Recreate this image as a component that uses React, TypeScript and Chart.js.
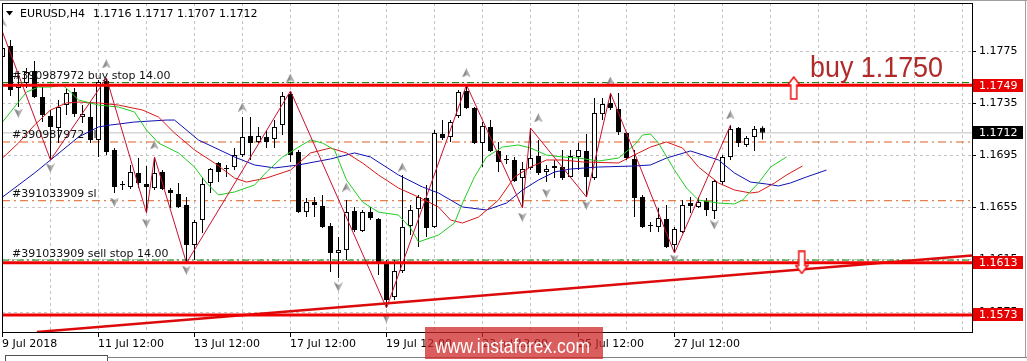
import React, { useEffect, useRef } from 'react';
import { Chart, registerables } from 'chart.js';
Chart.register(...registerables);

// ---- candle data (EURUSD H4, bar index 0 = 9 Jul 12:00) ----
const opens = [1.17701,1.17786,1.17464,1.17502,1.17594,1.17395,1.17249,1.17157,1.17333,1.17433,
 1.17241,1.17241,1.17065,1.17517,1.16989,1.16728,1.16705,1.16812,1.16728,1.16697,
 1.16820,1.16682,1.16651,1.16567,1.16261,1.16452,1.16736,1.16889,1.16851,1.16858,
 1.16950,1.17096,1.17050,1.17088,1.17073,1.17180,1.17418,1.16973,1.16513,1.16590,
 1.16559,1.16406,1.16199,1.16222,1.16521,1.16368,1.16513,1.16460,1.16130,1.15862,
 1.16061,1.16406,1.16536,1.16621,1.16399,1.17111,1.17088,1.17249,1.17441,1.17310,
 1.17042,1.17165,1.16981,1.16920,1.16912,1.16774,1.16851,1.16942,1.16820,1.16851,
 1.16858,1.16782,1.16935,1.16981,1.16774,1.17264,1.17349,1.17303,1.17119,1.16920,
 1.16628,1.16414,1.16399,1.16460,1.16261,1.16360,1.16582,1.16552,1.16598,1.16521,
 1.16743,1.16935,1.17157,1.17027,1.17088,1.17160];
const highs = [1.17893,1.17832,1.17579,1.17617,1.17671,1.17471,1.17295,1.17372,1.17464,1.17464,
 1.17333,1.17356,1.17525,1.17540,1.17004,1.16751,1.16874,1.16927,1.16866,1.16935,
 1.16835,1.16697,1.16736,1.16628,1.16452,1.16774,1.16851,1.16897,1.16874,1.17004,
 1.17241,1.17241,1.17165,1.17142,1.17218,1.17433,1.17441,1.16989,1.16621,1.16628,
 1.16644,1.16429,1.16322,1.16605,1.16552,1.16529,1.16552,1.16467,1.16146,1.16146,
 1.16797,1.16567,1.16644,1.16720,1.17142,1.17218,1.17218,1.17448,1.17487,1.17318,
 1.17203,1.17218,1.17050,1.16950,1.16935,1.16897,1.17157,1.17065,1.16874,1.16912,
 1.16989,1.16989,1.17042,1.17111,1.17387,1.17387,1.17425,1.17425,1.17127,1.16989,
 1.16644,1.16437,1.16544,1.16567,1.16399,1.16605,1.16628,1.16628,1.16621,1.16759,
 1.16950,1.17180,1.17165,1.17096,1.17173,1.17170];
const lows = [1.17678,1.17402,1.17318,1.17464,1.17387,1.17203,1.16912,1.17042,1.17257,1.17241,
 1.17195,1.17042,1.16935,1.16950,1.16659,1.16682,1.16690,1.16697,1.16506,1.16682,
 1.16682,1.16544,1.16544,1.16123,1.16146,1.16353,1.16659,1.16743,1.16782,1.16835,
 1.16935,1.16912,1.17042,1.17004,1.17004,1.17103,1.16897,1.16506,1.16475,1.16475,
 1.16391,1.16054,1.16008,1.16146,1.16360,1.16360,1.16452,1.16031,1.15778,1.15839,
 1.16046,1.16337,1.16245,1.16322,1.16391,1.17065,1.17050,1.17234,1.17303,1.17034,
 1.16858,1.16973,1.16820,1.16881,1.16743,1.16544,1.16835,1.16797,1.16743,1.16774,
 1.16759,1.16774,1.16835,1.16628,1.16759,1.17218,1.17295,1.17103,1.16912,1.16475,
 1.16391,1.16360,1.16360,1.16238,1.16199,1.16353,1.16506,1.16544,1.16483,1.16460,
 1.16720,1.16912,1.17011,1.17011,1.16981,1.17070];
const closes = [1.17770,1.17448,1.17494,1.17586,1.17395,1.17257,1.17165,1.17318,1.17425,1.17264,
 1.17264,1.17065,1.17510,1.16973,1.16705,1.16720,1.16820,1.16736,1.16705,1.16812,
 1.16690,1.16659,1.16552,1.16261,1.16437,1.16728,1.16843,1.16820,1.16843,1.16950,
 1.17088,1.17042,1.17096,1.17050,1.17165,1.17402,1.16950,1.16513,1.16590,1.16567,
 1.16399,1.16199,1.16222,1.16513,1.16376,1.16513,1.16467,1.16123,1.15839,1.16061,
 1.16399,1.16529,1.16628,1.16391,1.17119,1.17081,1.17203,1.17433,1.17310,1.17042,
 1.17173,1.16981,1.16897,1.16912,1.16751,1.16843,1.16927,1.16812,1.16843,1.16866,
 1.16774,1.16942,1.16989,1.16782,1.17272,1.17341,1.17310,1.17127,1.16927,1.16621,
 1.16399,1.16406,1.16467,1.16245,1.16383,1.16567,1.16559,1.16590,1.16529,1.16751,
 1.16935,1.17150,1.17042,1.17081,1.17150,1.17120];

// ---- Alligator lines ----
const jawBars = [0,4,6,9.5,12,13.5,16.5,20.5,21.5,24.5,29,31.5,34,37,41,44,46,49.5,52.5,54.5,57.5,60.5,63,65,67,69,71,74.5,79,81,83,86,89.5,91.5,93.5,95.5,97,98.5,100.5,103];
const jawPrices = [1.16628,1.16812,1.16912,1.17088,1.17165,1.17180,1.17203,1.17218,1.17218,1.17065,1.16935,1.16874,1.16851,1.16874,1.16920,1.16966,1.16935,1.16797,1.16705,1.16659,1.16552,1.16529,1.16582,1.16682,1.16759,1.16820,1.16843,1.16858,1.16866,1.16874,1.16927,1.16981,1.16912,1.16812,1.16743,1.16728,1.16713,1.16736,1.16782,1.16835];
const teethBars = [0,2,4,6,8,9.5,12,14.5,17.5,19.5,21.5,24,26.5,29,30.5,33,36,38.5,41,43,45,47,49.5,52,54.5,56,57.5,59.5,62,64,66,68,70,72.5,77,79.5,81,83,85,87,89.5,91.5,93.5,94.5,96.5,98,100];
const teethPrices = [1.16927,1.17042,1.17180,1.17295,1.17349,1.17356,1.17349,1.17333,1.17295,1.17241,1.17119,1.16989,1.16889,1.16774,1.16743,1.16774,1.16835,1.16966,1.17004,1.16966,1.16889,1.16797,1.16697,1.16628,1.16552,1.16452,1.16429,1.16475,1.16605,1.16782,1.16858,1.16912,1.16912,1.16897,1.16889,1.16966,1.17011,1.17050,1.17004,1.16858,1.16736,1.16682,1.16659,1.16667,1.16736,1.16797,1.16866];
const lipsBars = [0,1.5,3,4.5,6,7.5,8.5,9.5,12,14.5,16.5,18,19.5,22,24,25.5,27,29,31.5,33,35,37,38.5,40,41.5,43,45,47,49.5,51,52,54.5,56.5,57.5,59,60.5,62.5,64.5,66,68,70,72,74.5,77,79,80,81,82,84,85.5,87,89.5,91.5,92.5,94.5,96,98];
const lipsPrices = [1.17203,1.17318,1.17433,1.17471,1.17471,1.17487,1.17433,1.17372,1.17333,1.17318,1.17280,1.17142,1.17042,1.16966,1.16858,1.16736,1.16644,1.16667,1.16720,1.16820,1.16935,1.17011,1.17065,1.17042,1.16989,1.16759,1.16590,1.16513,1.16490,1.16391,1.16284,1.16337,1.16429,1.16582,1.16782,1.16935,1.17011,1.17027,1.17004,1.16950,1.16935,1.16927,1.16904,1.16927,1.17027,1.17103,1.17111,1.17042,1.16835,1.16697,1.16605,1.16582,1.16575,1.16605,1.16736,1.16858,1.16935];

// ---- ZigZag ----
const zigzagBars = [0,6,13,18,19,23,36,48,58,65,66,73,76,84,91];
const zigzagPrices = [1.17893,1.16912,1.17540,1.16506,1.16935,1.16123,1.17441,1.15778,1.17487,1.16544,1.17157,1.16628,1.17425,1.16199,1.17180];

// ---- Fractals ----
const upFractalBars = [0,13,19,30,36,43,50,58,67,76,91];
const upFractalPrices = [1.17969,1.17648,1.17027,1.17318,1.17540,1.16705,1.16858,1.17579,1.17234,1.17517,1.17257];
const downFractalBars = [2,6,14,18,23,42,48,65,68,73,84,89];
const downFractalPrices = [1.17272,1.16851,1.16590,1.16429,1.16069,1.15939,1.15701,1.16475,1.16659,1.16567,1.16153,1.16414];

// ---- objects ----
const levelPrices = [1.17485, 1.16125, 1.15725];
const levelLabels = ['1.1749', '1.1613', '1.1573'];
const orderPrices = [1.17505, 1.16145];
const stopPrices = [1.1705, 1.1660];
const orderTexts = ['#390987972 buy stop 14.00', '#390987972 sl', '#391033909 sl', '#391033909 sell stop 14.00'];
const orderTextPrices = [1.17505, 1.1705, 1.1660, 1.16145];
const bidPrice = 1.1712;
const bidLabel = '1.1712';
const trendBars = [4.3, 121.2];
const trendPrices = [1.15594, 1.16180];
const arrowUpBar = [98.9];
const arrowUpPrice = [1.17464];
const arrowDownBar = [99.9];
const arrowDownPrice = [1.16127];

// ---- axes ----
const yTickValues = [1.1775, 1.1735, 1.1695, 1.1655, 1.1615, 1.1575];
const yTickLabels = ['1.1775', '1.1735', '1.1695', '1.1655', '1.1615', '1.1575'];
const xTickBars = [0, 12, 24, 36, 48, 60, 72, 84];
const xTickLabels = ['9 Jul 2018', '11 Jul 12:00', '13 Jul 12:00', '17 Jul 12:00', '19 Jul 12:00', '23 Jul 12:00', '25 Jul 12:00', '27 Jul 12:00'];
const headerSymbol = 'EURUSD,H4';
const headerValues = '1.1716 1.1717 1.1707 1.1712';
const noteText = 'buy 1.1750';
const watermarkText = 'www.instaforex.com';

const X_MIN = -0.0625;
const X_MAX = 121.1875;
const Y_MIN = 1.15594;
const Y_MAX = 1.18115;
const FONT = '11px "DejaVu Sans"';

function mkCanvas(w: number, h: number, draw: (g: CanvasRenderingContext2D) => void) {
  const c = document.createElement('canvas');
  c.width = w; c.height = h;
  draw(c.getContext('2d') as CanvasRenderingContext2D);
  return c;
}

const mt4Plugin = {
  id: 'mt4',
  beforeDatasetsDraw(chart: any) {
    const { ctx, chartArea: a, scales } = chart;
    const x = scales.x, y = scales.y;
    ctx.save();
    ctx.strokeStyle = '#C4C4C4';
    ctx.lineWidth = 1;
    ctx.setLineDash([3, 3]);
    for (let b = 6; b <= 120; b += 6) {
      const px = Math.floor(x.getPixelForValue(b)) + 0.5;
      if (px >= a.right) continue;
      ctx.beginPath(); ctx.moveTo(px, a.top); ctx.lineTo(px, a.bottom); ctx.stroke();
    }
    for (const v of yTickValues) {
      const py = Math.round(y.getPixelForValue(v)) + 0.5;
      ctx.beginPath(); ctx.moveTo(a.left, py); ctx.lineTo(a.right, py); ctx.stroke();
    }
    ctx.restore();
  },
  afterDatasetsDraw(chart: any) {
    const { ctx, scales } = chart;
    const y = scales.y;
    ctx.save();
    ctx.font = FONT;
    ctx.fillStyle = '#111';
    ctx.textBaseline = 'alphabetic';
    orderTexts.forEach((t, k) => {
      ctx.fillText(t, 12, y.getPixelForValue(orderTextPrices[k]) - 3.5);
    });
    // big note text
    ctx.font = '30px "Liberation Sans"';
    ctx.fillStyle = '#B02A2A';
    const w = ctx.measureText(noteText).width;
    ctx.translate(810, 77);
    ctx.scale(133 / w, 1);
    ctx.fillText(noteText, 0, 0);
    ctx.restore();
  },
  afterDraw(chart: any) {
    const { ctx, chartArea: a, scales } = chart;
    const x = scales.x, y = scales.y;
    ctx.save();
    // frame
    ctx.strokeStyle = '#000';
    ctx.lineWidth = 1;
    ctx.strokeRect(a.left + 0.5, a.top + 0.5, a.right - a.left, a.bottom - a.top);
    ctx.font = FONT;
    ctx.fillStyle = '#000';
    // right axis
    ctx.textBaseline = 'middle';
    yTickValues.forEach((v, k) => {
      const py = Math.round(y.getPixelForValue(v)) + 0.5;
      ctx.beginPath(); ctx.moveTo(a.right, py); ctx.lineTo(a.right + 4, py); ctx.stroke();
      ctx.fillText(yTickLabels[k], 979, py);
    });
    // level boxes
    const box = (p: number, label: string, bg: string) => {
      const py = y.getPixelForValue(p);
      ctx.fillStyle = bg;
      ctx.fillRect(973, Math.round(py - 6.5), 50, 13);
      ctx.fillStyle = '#fff';
      ctx.fillText(label, 979, py + 0.5);
    };
    levelPrices.forEach((p, k) => box(p, levelLabels[k], '#E80000'));
    box(bidPrice, bidLabel, '#000');
    // bottom axis
    ctx.fillStyle = '#000';
    ctx.textBaseline = 'alphabetic';
    xTickBars.forEach((b, k) => {
      const px = Math.floor(x.getPixelForValue(b)) + 0.5;
      ctx.beginPath(); ctx.moveTo(px, a.bottom); ctx.lineTo(px, a.bottom + 5); ctx.stroke();
      ctx.fillText(xTickLabels[k], Math.max(px - 0.5, 2), 347);
    });
    // header
    ctx.beginPath(); ctx.moveTo(6, 11); ctx.lineTo(13, 11); ctx.lineTo(9.5, 15.5); ctx.closePath(); ctx.fill();
    ctx.fillText(headerSymbol, 20, 17);
    ctx.fillText(headerValues, 93, 17);
    // window frame bits
    ctx.strokeStyle = '#A0A0A0';
    ctx.beginPath(); ctx.moveTo(0, 0.5); ctx.lineTo(1027, 0.5); ctx.stroke();
    ctx.beginPath(); ctx.moveTo(1025.5, 0); ctx.lineTo(1025.5, 357); ctx.stroke();
    ctx.strokeStyle = '#505050';
    ctx.beginPath(); ctx.moveTo(5, 355.5); ctx.lineTo(107, 355.5); ctx.stroke();
    ctx.beginPath(); ctx.moveTo(5.5, 355); ctx.lineTo(5.5, 361); ctx.stroke();
    ctx.beginPath(); ctx.moveTo(107.5, 355); ctx.lineTo(107.5, 361); ctx.stroke();
    ctx.strokeStyle = '#808080';
    ctx.beginPath(); ctx.moveTo(107, 357.5); ctx.lineTo(1027, 357.5); ctx.stroke();
    // watermark
    ctx.fillStyle = 'rgba(205,40,40,0.75)';
    ctx.fillRect(425, 327, 178, 32);
    ctx.fillStyle = '#fff';
    ctx.font = '20px "Liberation Sans"';
    const ww = ctx.measureText(watermarkText).width;
    ctx.translate(435, 353);
    ctx.scale(155 / ww, 1);
    ctx.fillText(watermarkText, 0, 0);
    ctx.restore();
  },
};

export default function App() {
  const ref = useRef<HTMLCanvasElement>(null);
  useEffect(() => {
    document.body.style.margin = '0';
    const canvas = ref.current;
    if (!canvas) return;

    const fracUp = mkCanvas(9, 9, (g) => {
      g.fillStyle = '#B0B0B0';
      g.beginPath(); g.moveTo(4.5, 0); g.lineTo(9, 9); g.lineTo(4.5, 6.5); g.lineTo(0, 9); g.closePath(); g.fill();
      g.fillStyle = '#8C8C8C';
      g.beginPath(); g.moveTo(4.5, 0); g.lineTo(4.5, 6.5); g.lineTo(0, 9); g.closePath(); g.fill();
    });
    const fracDown = mkCanvas(9, 9, (g) => {
      g.fillStyle = '#B0B0B0';
      g.beginPath(); g.moveTo(4.5, 9); g.lineTo(9, 0); g.lineTo(4.5, 2.5); g.lineTo(0, 0); g.closePath(); g.fill();
      g.fillStyle = '#8C8C8C';
      g.beginPath(); g.moveTo(4.5, 9); g.lineTo(4.5, 2.5); g.lineTo(0, 0); g.closePath(); g.fill();
    });
    const bigUp = mkCanvas(14, 24, (g) => {
      g.fillStyle = '#fff'; g.strokeStyle = '#F01010'; g.lineWidth = 1.5;
      g.beginPath(); g.moveTo(7, 1); g.lineTo(13, 9); g.lineTo(10, 9); g.lineTo(10, 23); g.lineTo(4, 23); g.lineTo(4, 9); g.lineTo(1, 9); g.closePath();
      g.fill(); g.stroke();
    });
    const bigDown = mkCanvas(14, 24, (g) => {
      g.fillStyle = '#fff'; g.strokeStyle = '#F01010'; g.lineWidth = 1.5;
      g.beginPath(); g.moveTo(7, 23); g.lineTo(13, 15); g.lineTo(10, 15); g.lineTo(10, 1); g.lineTo(4, 1); g.lineTo(4, 15); g.lineTo(1, 15); g.closePath();
      g.fill(); g.stroke();
    });

    const idx = opens.map((_, i) => i);
    const pts = (xs: number[], ys: number[]) => xs.map((v, k) => ({ x: v, y: ys[k] }));
    const hline = (p: number) => [{ x: X_MIN, y: p }, { x: X_MAX, y: p }];
    const lineDs = (data: any[], color: string, width: number, order: number, dash: number[] = []) => ({
      type: 'line', data, borderColor: color, borderWidth: width, borderDash: dash,
      pointRadius: 0, fill: false, tension: 0, order, clip: 0,
    });

    const datasets: any[] = [
      ...levelPrices.map((p) => lineDs(hline(p), '#F00000', 3, 1)),
      lineDs(pts(trendBars, trendPrices), '#DC0A0A', 2.5, 1),
      { type: 'scatter', data: pts(arrowUpBar, arrowUpPrice), pointStyle: bigUp, pointRadius: 7, order: 0 },
      { type: 'scatter', data: pts(arrowDownBar, arrowDownPrice), pointStyle: bigDown, pointRadius: 7, order: 0 },
      lineDs(pts(zigzagBars, zigzagPrices), '#C8102E', 1, 2),
      { type: 'scatter', data: pts(upFractalBars, upFractalPrices), pointStyle: fracUp, pointRadius: 5, order: 3 },
      { type: 'scatter', data: pts(downFractalBars, downFractalPrices), pointStyle: fracDown, pointRadius: 5, order: 3 },
      lineDs(pts(lipsBars, lipsPrices), '#22CC22', 1, 4),
      lineDs(pts(teethBars, teethPrices), '#D81818', 1, 5),
      lineDs(pts(jawBars, jawPrices), '#1010B4', 1, 6),
      {
        type: 'bar', data: idx.map((i) => ({ x: i, y: [opens[i], closes[i]] })),
        backgroundColor: idx.map((i) => (closes[i] >= opens[i] ? '#FFFFFF' : '#000000')),
        borderColor: '#000', borderWidth: 1, borderSkipped: false, barThickness: 5,
        grouped: false, inflateAmount: 0, order: 7,
      },
      {
        type: 'bar', data: idx.map((i) => ({ x: i, y: [lows[i], highs[i]] })),
        backgroundColor: '#000', borderWidth: 0, barThickness: 1,
        grouped: false, inflateAmount: 0, order: 8,
      },
      ...orderPrices.map((p) => lineDs(hline(p), '#008000', 1, 9, [7, 3, 2, 3])),
      ...stopPrices.map((p) => lineDs(hline(p), '#E2601E', 1, 10, [8, 4, 2, 4])),
      lineDs(hline(bidPrice), '#C0C0C0', 1, 11),
    ];

    const chart = new Chart(canvas, {
      type: 'line',
      data: { datasets },
      options: {
        animation: false,
        responsive: false,
        events: [],
        layout: { autoPadding: false, padding: { left: 2, top: 3, right: 55, bottom: 29 } },
        plugins: { legend: { display: false }, tooltip: { enabled: false } },
        scales: {
          x: { type: 'linear', min: X_MIN, max: X_MAX, display: false, offset: false, bounds: 'data' },
          y: { type: 'linear', min: Y_MIN, max: Y_MAX, display: false, bounds: 'data' },
        },
      } as any,
      plugins: [mt4Plugin],
    } as any);
    return () => chart.destroy();
  }, []);

  return (
    <div style={{ position: 'absolute', left: 0, top: 0, width: 1027, height: 361, background: '#fff' }}>
      <canvas ref={ref} width={1027} height={361} style={{ display: 'block', width: 1027, height: 361 }} />
    </div>
  );
}
